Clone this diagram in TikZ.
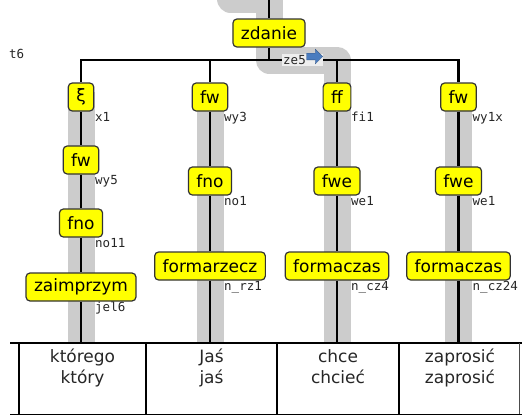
\documentclass[tikz,border=0pt]{standalone}
\usepackage{fontspec}
\setmainfont{DejaVu Sans}
\setmonofont{DejaVu Sans Mono}
\usetikzlibrary{shapes.arrows}
\definecolor{FillCat}{RGB}{255,255,0}
\definecolor{PathGray}{RGB}{204,204,204}
\definecolor{TagBg}{RGB}{238,238,238}
\definecolor{HeadBlue}{RGB}{74,124,191}

\begin{document}
\begin{tikzpicture}[x=1pt, y=-1pt,
            cat/.style={draw=black!80, line width=1.2pt, rounded corners=4pt, fill=FillCat, minimum height=28pt, inner xsep=8pt, inner ysep=0pt, font=\fontsize{17}{20}\selectfont},
            tag/.style={anchor=base west, inner sep=0pt, text=black!85, font=\fontsize{12.5}{14}\ttfamily},
            word/.style={anchor=north, inner sep=0pt, align=center, text=black!85, font=\fontsize{17}{21}\selectfont},
            link/.style={line width=2.8pt},
            band/.style={line width=27pt, line join=round, PathGray},
            rule/.style={line width=1.5pt}
        ]
            \useasboundingbox (0,0) rectangle (522,415);
            \clip (0,0) rectangle (522,415);
            % highlighted path
            \draw[band] (230.5,-40) -- (230.5,-1) -- (269,-1) -- (269,60) -- (337,60) -- (337,343);
            \draw[band] (81,92) -- (81,343);
            \draw[band] (210,92) -- (210,343);
            \draw[band] (458.5,92) -- (458.5,343);
            % categories
            \node[cat] (zdanie) at (269,33)    {zdanie};
            \node[cat] (xi)     at (81,97)     {ξ};
            \node[cat] (fwA)    at (81,160)    {fw};
            \node[cat] (fnoA)   at (81,223)    {fno};
            \node[cat] (zaim)   at (81,287)    {zaimprzym};
            \node[cat] (fwB)    at (210,97)    {fw};
            \node[cat] (fnoB)   at (210,181)   {fno};
            \node[cat] (rzecz)  at (210,266)   {formarzecz};
            \node[cat] (ff)     at (337,97)    {ff};
            \node[cat] (fweC)   at (337,181)   {fwe};
            \node[cat] (czasC)  at (337,266)   {formaczas};
            \node[cat] (fwD)    at (458.5,97)  {fw};
            \node[cat] (fweD)   at (458.5,181) {fwe};
            \node[cat] (czasD)  at (458.5,266) {formaczas};
            \coordinate (root) at (269,-10);
            \coordinate (fork) at (269,60);
            \coordinate (endA) at (81,343);
            \coordinate (endB) at (210,343);
            \coordinate (endC) at (337,343);
            \coordinate (endD) at (458.5,343);
            % tree
            \draw[link] (root) -- (zdanie);
            \draw[link] (zdanie) -- (fork);
            \draw[link] (fork) -| (xi);
            \draw[link] (fork) -| (fwB);
            \draw[link] (fork) -| (ff);
            \draw[link] (fork) -| (fwD);
            \draw[link] (xi) -- (fwA);
            \draw[link] (fwA) -- (fnoA);
            \draw[link] (fnoA) -- (zaim);
            \draw[link] (zaim) -- (endA);
            \draw[link] (fwB) -- (fnoB);
            \draw[link] (fnoB) -- (rzecz);
            \draw[link] (rzecz) -- (endB);
            \draw[link] (ff) -- (fweC);
            \draw[link] (fweC) -- (czasC);
            \draw[link] (czasC) -- (endC);
            \draw[link] (fwD) -- (fweD);
            \draw[link] (fweD) -- (czasD);
            \draw[link] (czasD) -- (endD);
            % tags
            \node[tag] (tagT)    at (9,58)       {t6};
            \node[tag, fill=TagBg, inner sep=1pt, text width=39pt] (tagZe) at (282,64.5) {ze5};
            \node[single arrow, fill=HeadBlue, draw=HeadBlue!70!black, line width=0.3pt, inner sep=3.2pt, minimum height=16pt, single arrow head extend=4pt, anchor=east] (tagHead) at ([xshift=-0.5pt,yshift=3.5pt]tagZe.east) {};
            \node[tag] (tagXi)   at (95,121)     {x1};
            \node[tag] (tagFwA)  at (95,184)     {wy5};
            \node[tag] (tagFnoA) at (95,247)     {no11};
            \node[tag] (tagZaim) at (95,311)     {jel6};
            \node[tag] (tagFwB)  at (224,121)    {wy3};
            \node[tag] (tagFnoB) at (224,205)    {no1};
            \node[tag] (tagRz)   at (224,290)    {n\_rz1};
            \node[tag] (tagFf)   at (351,121)    {fi1};
            \node[tag] (tagFweC) at (351,205)    {we1};
            \node[tag] (tagCzC)  at (351,290)    {n\_cz4};
            \node[tag] (tagFwD)  at (472.5,121)  {wy1x};
            \node[tag] (tagFweD) at (472.5,205)  {we1};
            \node[tag] (tagCzD)  at (472.5,290)  {n\_cz24};
            % words
            \draw[rule] (10,343) -- (522,343);
            \draw[rule] (10,414.3) -- (522,414.3);
            \foreach \x in {18.5,146,277,399}
                \draw[line width=2pt] (\x,343) -- (\x,414.3);
            \draw[line width=0.8pt, black!70] (519.5,343) -- (519.5,414.3);
            \node[word] (wA) at (82.5,349) {którego\\który};
            \node[word] (wB) at (211.5,349) {Jaś\\jaś};
            \node[word] (wC) at (338,349) {chce\\chcieć};
            \node[word] (wD) at (460,349) {zaprosić\\zaprosić};
        \end{tikzpicture}
\end{document}
